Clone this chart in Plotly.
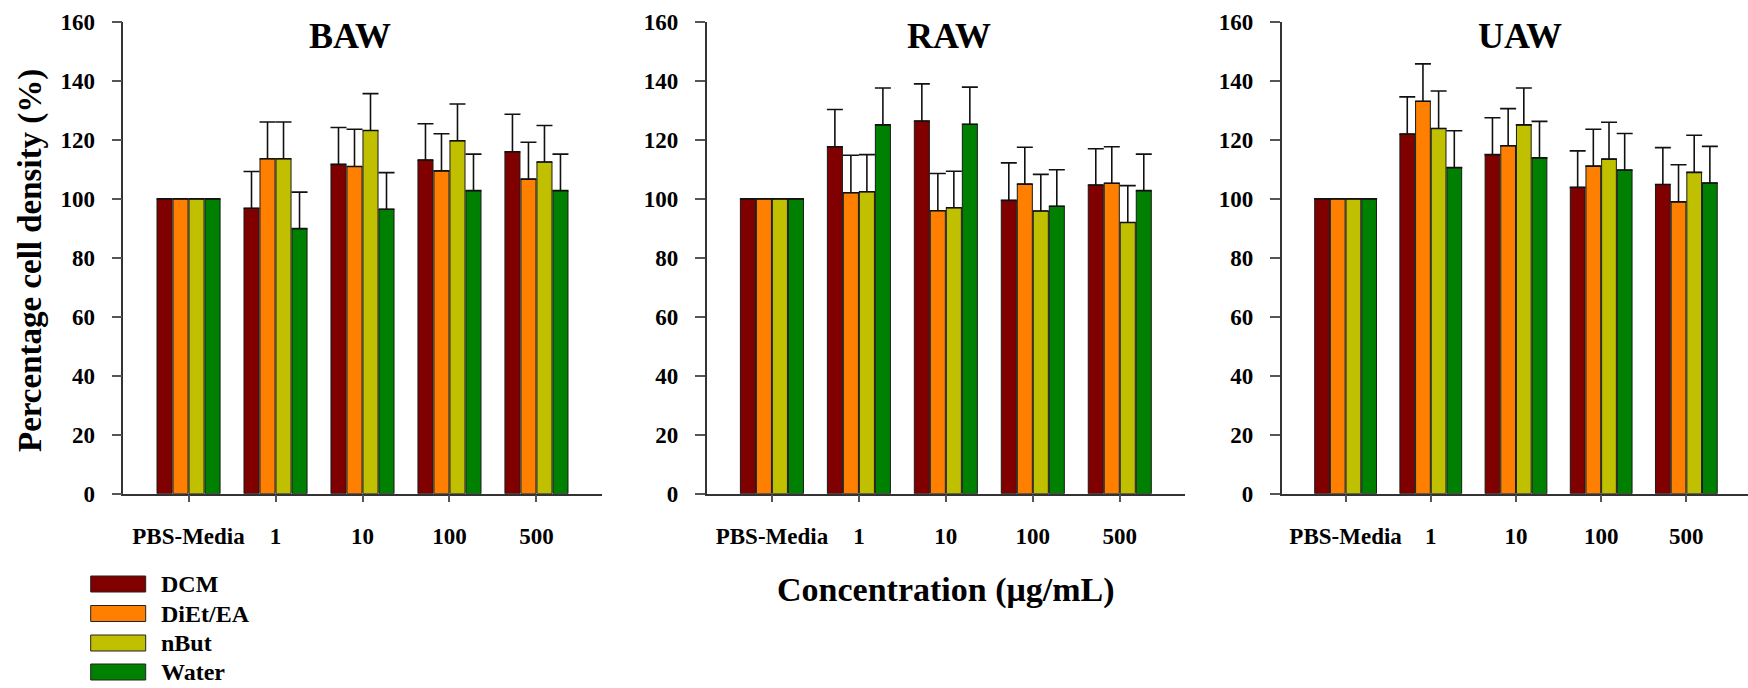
import plotly.graph_objects as go

# Concentration groups and extract series
categories = ["PBS-Media", "1", "10", "100", "500"]
series = ["DCM", "DiEt/EA", "nBut", "Water"]
colors = ["#800000", "#FF8000", "#C0C000", "#008000"]
panels = ["BAW", "RAW", "UAW"]

# Mean percentage cell density per panel, one list per extract
baw_dcm = [100, 96.8, 111.7, 113.2, 116.0]
baw_diet = [100, 113.6, 111.0, 109.5, 106.7]
baw_nbut = [100, 113.6, 123.2, 119.7, 112.5]
baw_water = [100, 89.9, 96.5, 102.8, 102.8]

raw_dcm = [100, 117.7, 126.4, 99.5, 104.7]
raw_diet = [100, 102.1, 96.0, 105.0, 105.3]
raw_nbut = [100, 102.4, 97.0, 95.9, 92.0]
raw_water = [100, 125.1, 125.3, 97.5, 102.8]

uaw_dcm = [100, 122.0, 115.0, 103.9, 104.9]
uaw_diet = [100, 133.1, 118.0, 111.1, 99.0]
uaw_nbut = [100, 123.9, 125.1, 113.5, 109.0]
uaw_water = [100, 110.6, 113.9, 109.8, 105.4]

# Upper error (SD); the control has none
baw_dcm_err = [None, 12.5, 12.5, 12.3, 12.7]
baw_diet_err = [None, 12.5, 12.6, 12.6, 12.5]
baw_nbut_err = [None, 12.5, 12.5, 12.5, 12.4]
baw_water_err = [None, 12.4, 12.4, 12.4, 12.4]

raw_dcm_err = [None, 12.6, 12.6, 12.7, 12.3]
raw_diet_err = [None, 12.7, 12.6, 12.5, 12.4]
raw_nbut_err = [None, 12.6, 12.4, 12.4, 12.5]
raw_water_err = [None, 12.5, 12.6, 12.4, 12.4]

uaw_dcm_err = [None, 12.6, 12.5, 12.4, 12.5]
uaw_diet_err = [None, 12.7, 12.6, 12.5, 12.6]
uaw_nbut_err = [None, 12.7, 12.5, 12.5, 12.6]
uaw_water_err = [None, 12.5, 12.4, 12.4, 12.4]

y_ticks = [0, 20, 40, 60, 80, 100, 120, 140, 160]

panel_values = [
    [baw_dcm, baw_diet, baw_nbut, baw_water],
    [raw_dcm, raw_diet, raw_nbut, raw_water],
    [uaw_dcm, uaw_diet, uaw_nbut, uaw_water],
]
panel_errors = [
    [baw_dcm_err, baw_diet_err, baw_nbut_err, baw_water_err],
    [raw_dcm_err, raw_diet_err, raw_nbut_err, raw_water_err],
    [uaw_dcm_err, uaw_diet_err, uaw_nbut_err, uaw_water_err],
]

W, H = 1748, 688
FONT = "Liberation Serif, Times New Roman, serif"


def px(x):
    return x / W


def py(y):
    return 1 - y / H


# Plot-area extents (pixels) for the three panels
x_domains = [(123.3, 601.7), (706.7, 1185.0), (1281.7, 1747.7)]
x_ranges = [[-0.75, 4.75], [-0.75, 4.75], [-0.75, 4.72]]
y_domain = [py(493.7), py(22.0)]

fig = go.Figure()

for p in range(3):
    xa = "x" if p == 0 else f"x{p + 1}"
    ya = "y" if p == 0 else f"y{p + 1}"
    for s in range(4):
        errs = panel_errors[p][s]
        fig.add_trace(go.Bar(
            x=categories,
            y=panel_values[p][s],
            name=series[s],
            showlegend=False,
            marker=dict(color=colors[s], line=dict(color="#1a1a1a", width=1)),
            error_y=dict(
                type="data",
                symmetric=False,
                array=errs,
                arrayminus=[0 if e is not None else None for e in errs],
                color="#111111",
                thickness=1.6,
                width=8,
            ),
            xaxis=xa,
            yaxis=ya,
        ))

axis_common = dict(
    showline=True,
    linecolor="#333333",
    linewidth=1.5,
    showgrid=False,
    zeroline=False,
    automargin=False,
    ticks="outside",
    tickcolor="#555555",
    tickwidth=1.5,
    tickfont=dict(family=FONT, size=23, color="black", weight="bold"),
)

layout = dict(
    width=W,
    height=H,
    autosize=False,
    margin=dict(l=0, r=0, t=0, b=0, pad=0, autoexpand=False),
    paper_bgcolor="white",
    plot_bgcolor="white",
    barmode="group",
    bargap=0.264,
    bargroupgap=0.06,
    showlegend=False,
)

for p in range(3):
    xk = "xaxis" if p == 0 else f"xaxis{p + 1}"
    yk = "yaxis" if p == 0 else f"yaxis{p + 1}"
    ya = "y" if p == 0 else f"y{p + 1}"
    xa = "x" if p == 0 else f"x{p + 1}"
    layout[xk] = dict(
        axis_common,
        domain=[px(x_domains[p][0]), px(x_domains[p][1])],
        range=x_ranges[p],
        type="category",
        ticklen=7,
        ticklabelstandoff=14,
        anchor=ya,
    )
    layout[yk] = dict(
        axis_common,
        domain=y_domain,
        range=[0, 160],
        tickvals=y_ticks,
        ticklen=10,
        ticklabelstandoff=12,
        anchor=xa,
    )

fig.update_layout(**layout)

# Panel titles
title_x = [350, 949, 1520]
for p in range(3):
    fig.add_annotation(
        x=px(title_x[p]), y=py(36), xref="paper", yref="paper",
        text=panels[p], showarrow=False, xanchor="center", yanchor="middle",
        font=dict(family=FONT, size=36, color="black", weight="bold"),
    )

# Shared axis titles
fig.add_annotation(
    x=px(946), y=py(590), xref="paper", yref="paper",
    text="Concentration (μg/mL)", showarrow=False,
    xanchor="center", yanchor="middle",
    font=dict(family=FONT, size=34, color="black", weight="bold"),
)
fig.add_annotation(
    x=px(30), y=py(261), xref="paper", yref="paper",
    text="Percentage cell density (%)", showarrow=False, textangle=-90,
    xanchor="center", yanchor="middle",
    font=dict(family=FONT, size=33, color="black", weight="bold"),
)

# Legend: long swatches with labels, stacked below the first panel
legend_rows = [584.0, 613.5, 643.0, 672.0]
for s in range(4):
    yc = legend_rows[s]
    fig.add_shape(
        type="rect", xref="paper", yref="paper",
        x0=px(90.7), x1=px(145.7), y0=py(yc + 8), y1=py(yc - 8),
        fillcolor=colors[s], line=dict(color="#222222", width=1),
    )
    fig.add_annotation(
        x=px(159), y=py(yc), xref="paper", yref="paper",
        text=series[s], showarrow=False, xanchor="left", yanchor="middle",
        font=dict(family=FONT, size=24, color="black", weight="bold"),
    )

fig.write_html("out.html")
